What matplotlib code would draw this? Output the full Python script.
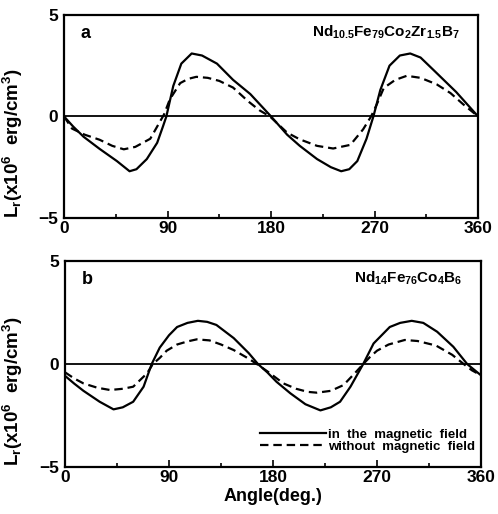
import matplotlib
matplotlib.use("Agg")
import matplotlib.pyplot as plt
from matplotlib.ticker import MultipleLocator

plt.rcParams['font.family'] = ['Liberation Sans', 'DejaVu Sans']
plt.rcParams['font.weight'] = 'bold'
plt.rcParams['mathtext.fontset'] = 'custom'
plt.rcParams['mathtext.rm'] = 'Liberation Sans:bold'
plt.rcParams['mathtext.it'] = 'Liberation Sans:bold'
plt.rcParams['mathtext.bf'] = 'Liberation Sans:bold'

# panel a : Nd10.5Fe79Co2Zr1.5B7
a_field_ang = [0, 8, 17, 31, 46, 57, 63, 72, 81, 86, 89, 95, 102, 111, 120, 133, 147, 162, 180,
               194, 205, 220, 232, 241, 248, 255, 263, 269, 275, 283, 292, 301, 310, 321, 341, 360]
a_field_val = [0, -0.5, -1.0, -1.6, -2.2, -2.7, -2.6, -2.1, -1.3, -0.5, 0, 1.5, 2.6, 3.1, 3.0, 2.6, 1.8, 1.1, 0,
               -0.9, -1.45, -2.1, -2.5, -2.7, -2.6, -2.2, -1.1, 0, 1.3, 2.5, 3.0, 3.1, 2.9, 2.3, 1.2, 0]
a_nofield_ang = [0, 7, 18, 31, 42, 52, 62, 75, 83, 87, 92, 101, 108, 115, 125, 135, 147, 160, 170, 179,
                 194, 205, 220, 234, 249, 260, 267, 272, 278, 288, 298, 310, 324, 336, 347, 360]
a_nofield_val = [0, -0.6, -0.9, -1.15, -1.45, -1.62, -1.5, -1.1, -0.3, 0.1, 0.84, 1.64, 1.85, 1.95, 1.9, 1.75, 1.42, 0.75, 0.3, 0,
                 -0.8, -1.13, -1.45, -1.58, -1.4, -0.64, 0, 0.6, 1.4, 1.8, 2.0, 1.9, 1.58, 1.15, 0.6, 0]

# panel b : Nd14Fe76Co4B6
b_field_ang = [0, 8, 16, 30, 42, 50, 59, 68, 75, 82, 90, 97, 106, 115, 123, 131, 146, 159, 167, 175,
               183, 195, 208, 221, 230, 238, 247, 258, 267, 281, 290, 300, 310, 322, 336, 348, 360]
b_field_val = [-0.57, -0.95, -1.3, -1.83, -2.2, -2.1, -1.83, -1.1, 0, 0.8, 1.4, 1.8, 2.0, 2.1, 2.05, 1.9, 1.26, 0.53, 0, -0.4,
               -0.86, -1.42, -1.95, -2.25, -2.1, -1.83, -1.1, 0, 1.0, 1.8, 2.0, 2.1, 2.0, 1.57, 0.84, 0, -0.55]
b_nofield_ang = [0, 8, 16, 28, 39, 50, 59, 71, 76, 82, 88, 97, 106, 114, 125, 135, 146, 159, 166, 175,
                 189, 200, 210, 218, 230, 241, 252, 258, 264, 270, 280, 294, 305, 321, 335, 345, 352, 360]
b_nofield_val = [-0.4, -0.7, -0.94, -1.15, -1.26, -1.2, -1.1, -0.45, 0, 0.3, 0.65, 0.95, 1.1, 1.2, 1.15, 0.95, 0.68, 0.26, 0, -0.35,
                 -0.94, -1.2, -1.35, -1.39, -1.3, -1.02, -0.37, 0, 0.35, 0.65, 0.95, 1.17, 1.12, 0.9, 0.45, 0, -0.3, -0.55]

panel_letters = ['a', 'b']
compositions = [r'Nd$_{10.5}$Fe$_{79}$Co$_{2}$Zr$_{1.5}$B$_{7}$', r'Nd$_{14}$Fe$_{76}$Co$_{4}$B$_{6}$']
legend_labels = ['in  the  magnetic  field', 'without  magnetic  field']
ylabel = r'L$_{r}$(x10$^{6}$  erg/cm$^{3}$)'

fig = plt.figure(figsize=(4.98, 5.14), dpi=100)
ax_a = fig.add_axes([0.1285, 0.576, 0.8315, 0.395])
ax_b = fig.add_axes([0.1305, 0.0914, 0.8355, 0.4006])

data = [(a_field_ang, a_field_val, a_nofield_ang, a_nofield_val),
        (b_field_ang, b_field_val, b_nofield_ang, b_nofield_val)]

for i, ax in enumerate([ax_a, ax_b]):
    fa, fv, na, nv = data[i]
    ax.axhline(0, color='black', lw=1.3)
    ax.plot(fa, fv, color='black', lw=1.6, label=legend_labels[0])
    ax.plot(na, nv, color='black', lw=1.6, linestyle=(0, (3.8, 2.2)), label=legend_labels[1])
    ax.set_xlim(0, 360)
    ax.set_ylim(-5, 5)
    ax.set_xticks([0, 90, 180, 270, 360])
    ax.xaxis.set_minor_locator(MultipleLocator(45))
    ax.set_yticks([-5, 0, 5])
    ax.set_yticklabels(['\u22125', '0', '5'])
    ax.tick_params(axis='x', which='major', direction='in', length=5, width=1.2, labelsize=12.5, pad=2)
    ax.tick_params(axis='x', which='minor', direction='in', length=3, width=1.2)
    ax.tick_params(axis='y', length=0, labelsize=12.5, pad=4)
    for lab in ax.get_xticklabels() + ax.get_yticklabels():
        lab.set_fontweight('bold')
    for s in ax.spines.values():
        s.set_linewidth(1.6)
    ax.set_ylabel(ylabel, fontsize=13.5, fontweight='bold')
    ax.yaxis.set_label_coords(-0.095, 0.37)
    ax.text(0.04, 0.95, panel_letters[i], transform=ax.transAxes, fontsize=13,
            fontweight='bold', va='top', ha='left')
    ax.text(0.955, 0.915, compositions[i], transform=ax.transAxes, fontsize=11,
            fontweight='bold', va='center', ha='right')

ax_b.set_xlabel('Angle(deg.)', fontsize=13, fontweight='bold', labelpad=2)
ax_b.legend(loc='lower right', bbox_to_anchor=(1.005, 0.03), frameon=False,
            prop={'size': 9.5, 'weight': 'bold'}, handlelength=5.0, handletextpad=0.2,
            labelspacing=0.0, borderpad=0.1)

fig.savefig('out.png', dpi=100)
